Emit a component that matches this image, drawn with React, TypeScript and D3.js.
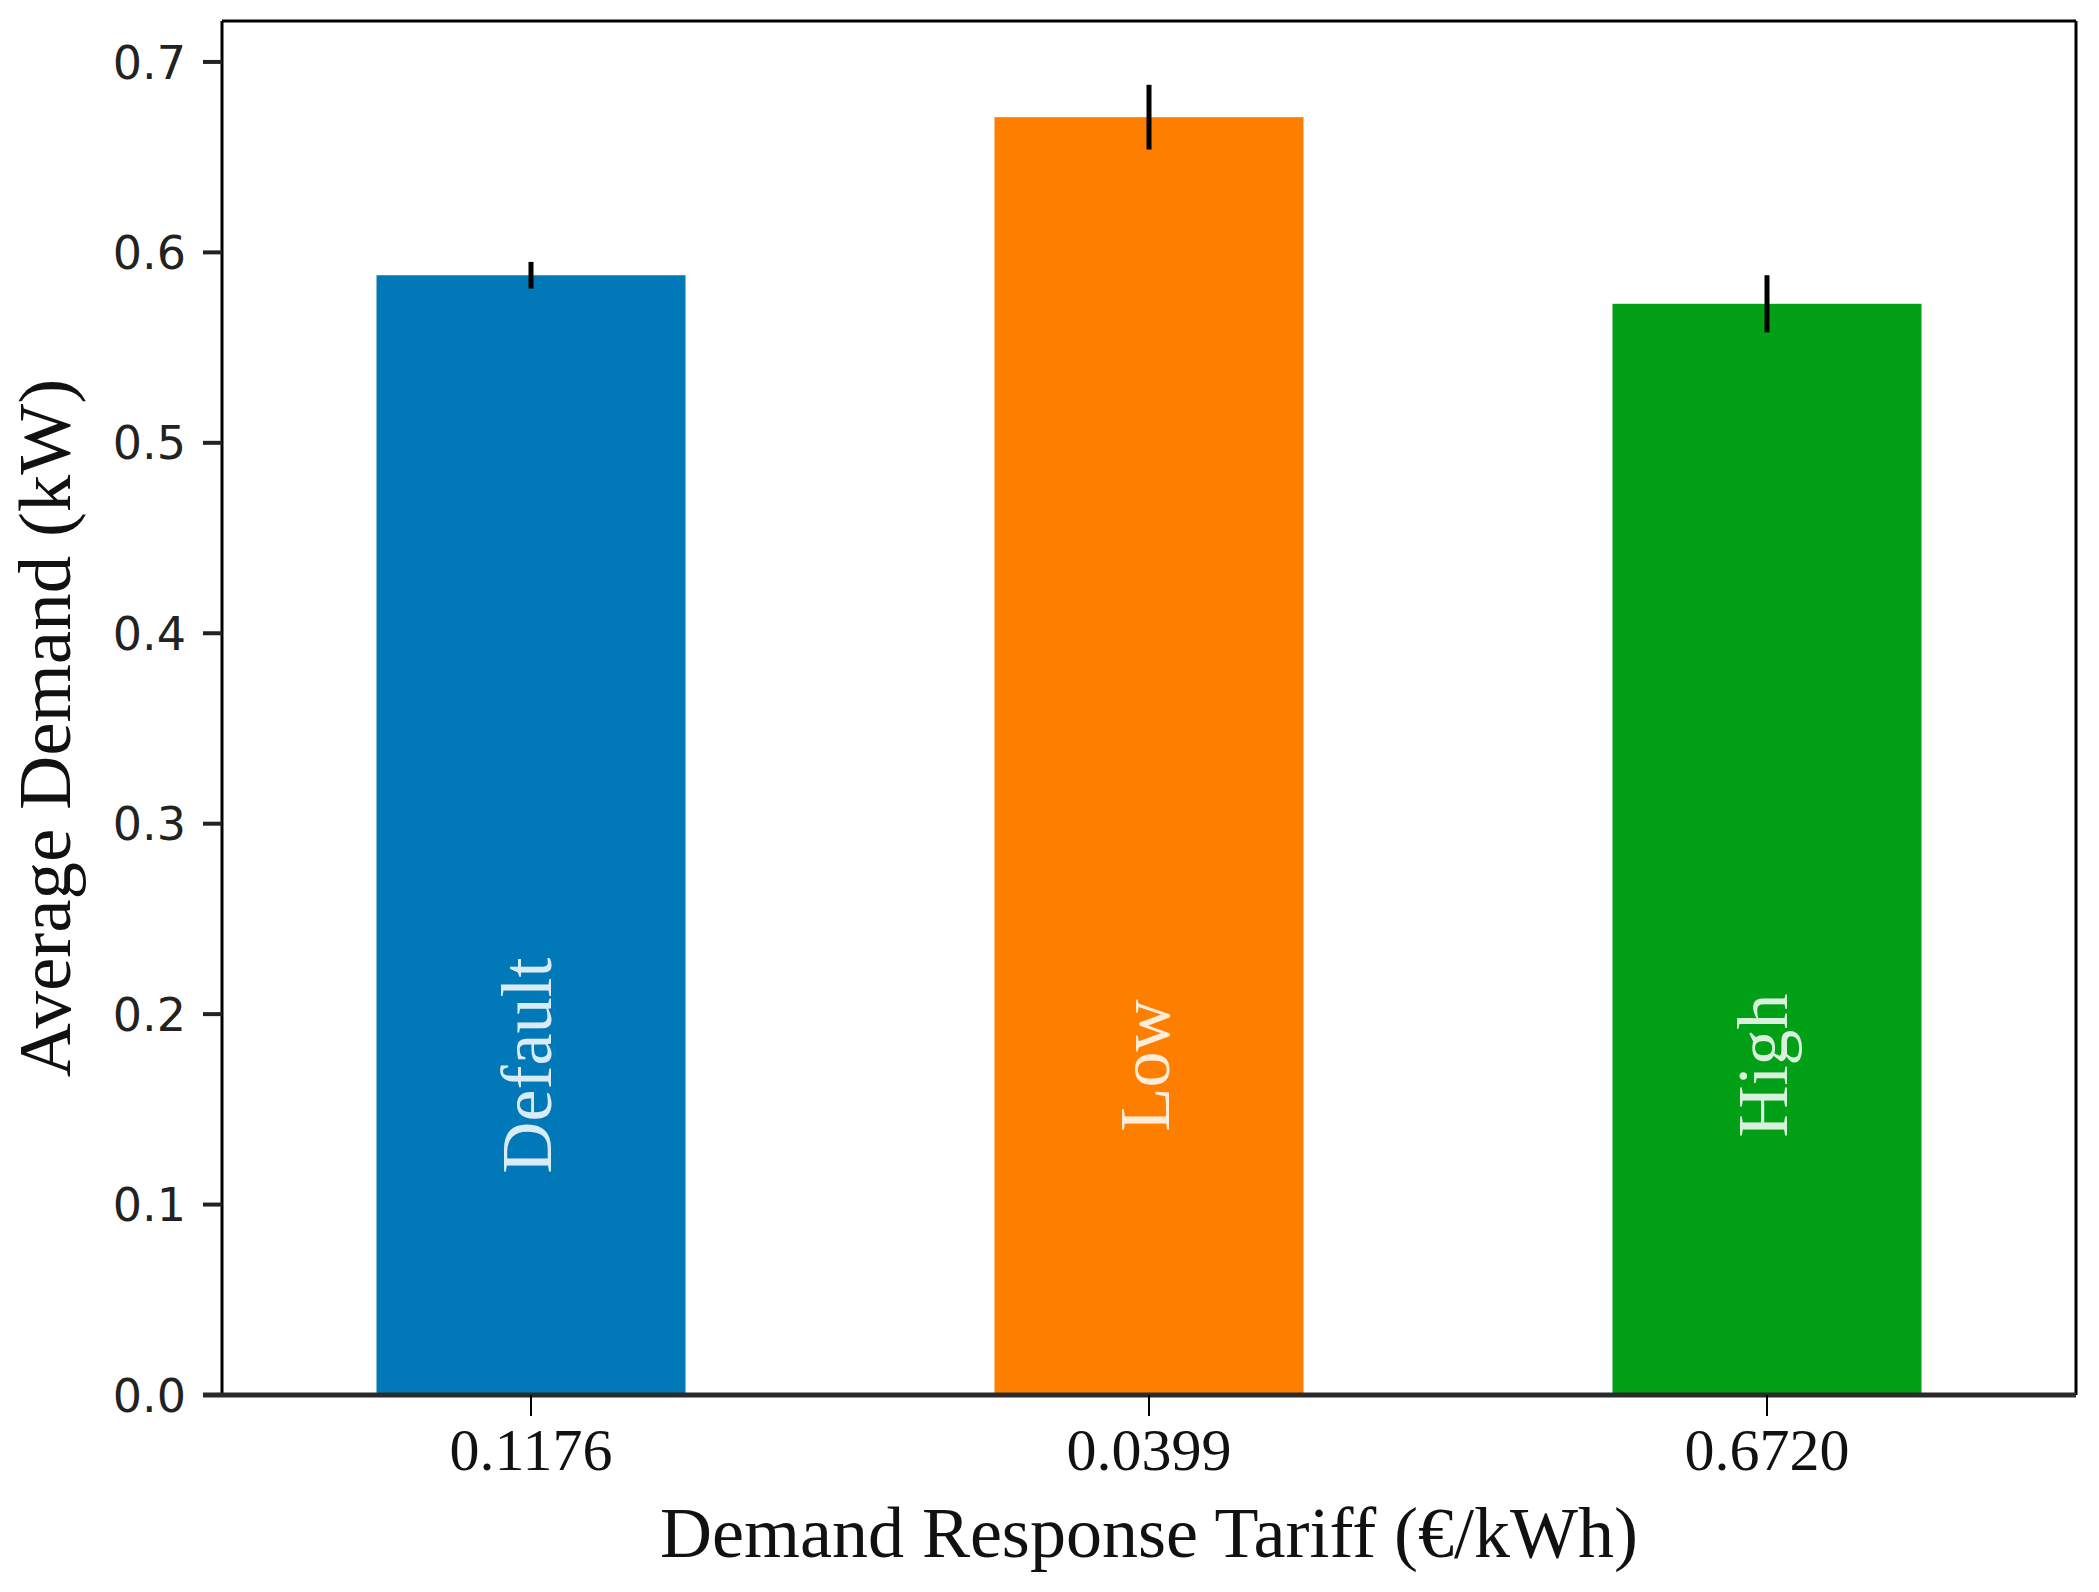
import { useMemo } from "react";
import { scaleBand, scaleLinear, format } from "d3";

const tariffs = ["0.1176", "0.0399", "0.6720"];
const tariffNames = ["Default", "Low", "High"];
const avgDemand = [0.588, 0.671, 0.573];
const demandErr = [0.007, 0.017, 0.015];
const barColors = ["#0178b8", "#fe7f00", "#01a016"];

const W = 2099;
const H = 1592;
const M = { left: 222, right: 2076, top: 21, bottom: 1395 };
const serif = "'Liberation Serif', 'Times New Roman', serif";
const sans = "'DejaVu Sans', Verdana, sans-serif";

export default function App() {
  const { x, y, yTicks } = useMemo(() => {
    const x = scaleBand<string>()
      .domain(tariffs)
      .range([M.left, M.right])
      .paddingInner(0.5)
      .paddingOuter(0.25);
    const y = scaleLinear().domain([0, 0.7215]).range([M.bottom, M.top]);
    const yTicks = y.ticks(7);
    return { x, y, yTicks };
  }, []);

  const fmt = format(".1f");

  return (
    <div style={{ position: "absolute", left: 0, top: 0, background: "#fff" }}>
      <svg width={W} height={H} viewBox={`0 0 ${W} ${H}`}>
        <rect x={0} y={0} width={W} height={H} fill="#fff" />

        {/* bars */}
        {tariffs.map((t, i) => (
          <rect
            key={t}
            x={x(t)}
            y={y(avgDemand[i])}
            width={x.bandwidth()}
            height={y(0) - y(avgDemand[i])}
            fill={barColors[i]}
          />
        ))}

        {/* error bars */}
        {tariffs.map((t, i) => {
          const cx = (x(t) ?? 0) + x.bandwidth() / 2;
          return (
            <line
              key={t}
              x1={cx}
              x2={cx}
              y1={y(avgDemand[i] - demandErr[i])}
              y2={y(avgDemand[i] + demandErr[i])}
              stroke="#000"
              strokeWidth={5}
            />
          );
        })}

        {/* names inside bars */}
        {tariffs.map((t, i) => {
          const cx = (x(t) ?? 0) + x.bandwidth() / 2 + 20;
          const cy = y(0.173);
          return (
            <text
              key={t}
              transform={`translate(${cx},${cy}) rotate(-90)`}
              textAnchor="middle"
              fontFamily={serif}
              fontSize={72}
              fill="#fff"
              fillOpacity={0.85}
            >
              {tariffNames[i]}
            </text>
          );
        })}

        {/* frame */}
        <line x1={M.left} x2={M.right} y1={M.top} y2={M.top} stroke="#000" strokeWidth={3} />
        <line x1={M.right} x2={M.right} y1={M.top} y2={M.bottom} stroke="#000" strokeWidth={3} />
        <line x1={M.left} x2={M.left} y1={M.top} y2={M.bottom} stroke="#000" strokeWidth={3} />

        {/* y ticks */}
        {yTicks.map((v) => (
          <g key={v}>
            <line x1={M.left - 19} x2={M.left} y1={y(v)} y2={y(v)} stroke="#222" strokeWidth={4} />
            <text
              x={M.left - 36}
              y={y(v)}
              dy="0.36em"
              textAnchor="end"
              fontFamily={sans}
              fontSize={46}
              fill="#222"
            >
              {fmt(v)}
            </text>
          </g>
        ))}

        <line x1={M.left - 19} x2={M.right} y1={M.bottom} y2={M.bottom} stroke="#2a2a2a" strokeWidth={5} />

        {/* x ticks */}
        {tariffs.map((t) => {
          const cx = (x(t) ?? 0) + x.bandwidth() / 2;
          return (
            <g key={t}>
              <line x1={cx} x2={cx} y1={M.bottom} y2={M.bottom + 21} stroke="#000" strokeWidth={2} />
              <text
                x={cx}
                y={1470}
                textAnchor="middle"
                fontFamily={serif}
                fontSize={60}
                fill="#111"
              >
                {t}
              </text>
            </g>
          );
        })}

        {/* axis titles */}
        <text
          x={(M.left + M.right) / 2}
          y={1557}
          textAnchor="middle"
          fontFamily={serif}
          fontSize={72}
          fill="#111"
        >
          Demand Response Tariff (€/kWh)
        </text>
        <text
          transform={`translate(70,728) rotate(-90)`}
          textAnchor="middle"
          fontFamily={serif}
          fontSize={75}
          fill="#111"
        >
          Average Demand (kW)
        </text>
      </svg>
    </div>
  );
}
